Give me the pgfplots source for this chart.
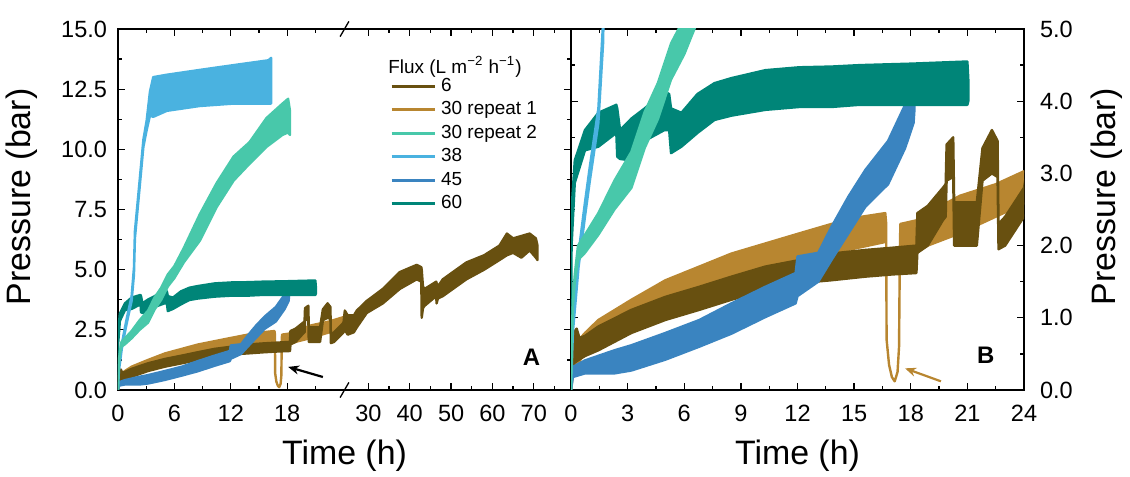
\documentclass[border=0pt]{standalone}
\usepackage{fontspec}
\setmainfont{Liberation Sans}
\usepackage{pgfplots}
\pgfplotsset{compat=1.18}
\usepackage{pgfplotstable}
\usetikzlibrary{arrows.meta}

\definecolor{cSix}{RGB}{104,80,16}
\definecolor{cRone}{RGB}{184,134,48}
\definecolor{cRtwo}{RGB}{72,200,170}
\definecolor{cThirtyEight}{RGB}{74,178,224}
\definecolor{cFortyFive}{RGB}{58,132,192}
\definecolor{cSixty}{RGB}{0,133,120}

% each table: upper envelope forward, lower envelope backward (t in h, p in bar)
\pgfplotstableread{
t p
0 0
0.05 0.55
0.15 0.8
0.3 0.85
0.45 0.72
0.74 0.75
1.45 0.88
3.2 1.11
5.0 1.29
6.8 1.43
8.5 1.57
10.3 1.71
12.1 1.8
13.8 1.89
15.6 1.94
17.0 1.97
18.3 2.0
18.35 2.45
18.9 2.55
19.7 2.8
19.85 2.85
19.9 3.4
20.25 3.5
20.3 2.6
21.5 2.6
21.8 3.35
22.3 3.6
22.6 3.45
22.65 2.3
23.0 2.4
24.0 2.8
24.3 3.3
25.0 3.1
26.5 3.1
27.2 3.3
29.6 3.7
33.5 4.2
37.6 4.9
41.7 5.2
42.8 5.1
42.9 5.0
43.2 4.3
43.6 4.2
46.4 4.5
46.8 4.3
48.0 4.6
53.7 5.3
58.0 5.6
61.7 6.0
63.5 6.5
65.0 6.3
67.0 6.4
69.0 6.5
70.5 6.3
70.9 6.0
70.9 5.4
70.5 5.5
69.0 5.8
67.0 5.5
65.0 5.7
63.5 5.6
61.7 5.4
58.0 5.0
53.7 4.6
48.0 3.9
46.8 3.8
46.5 3.6
46.4 3.9
43.6 3.5
43.2 3.4
42.9 3.0
42.8 4.5
41.7 4.6
37.6 4.2
33.5 3.6
29.6 3.2
27.2 2.6
26.5 2.4
25.0 2.3
24.3 2.5
24.0 2.4
23.0 2.0
22.65 1.95
22.6 2.95
22.3 3.0
21.8 2.9
21.5 2.0
20.3 2.0
20.25 2.95
19.9 2.9
19.85 2.4
19.7 2.35
18.9 2.0
18.35 1.9
18.3 1.62
17.0 1.6
15.6 1.57
13.8 1.52
12.1 1.48
10.3 1.38
8.5 1.25
6.8 1.11
5.0 0.97
3.2 0.79
1.45 0.55
0.74 0.47
0.3 0.4
0.15 0.37
0.05 0.3
0 0
}\tabSix

\pgfplotstableread{
t p
0 0
0.1 0.6
0.74 0.79
1.45 0.97
3.2 1.25
5.0 1.52
6.8 1.71
8.5 1.89
10.3 2.03
12.1 2.17
13.8 2.3
15.4 2.4
16.65 2.45
16.7 2.3
16.72 0.7
16.85 0.35
17.0 0.18
17.15 0.12
17.3 0.25
17.38 0.6
17.42 1.9
17.45 2.3
18.3 2.35
18.9 2.45
20.6 2.69
22.5 2.85
24.0 3.03
25.0 3.1
25.0 2.6
24.0 2.58
22.5 2.4
20.6 2.17
18.9 2.0
18.3 1.9
17.45 1.85
17.42 1.8
17.38 0.6
17.3 0.25
17.15 0.12
17.0 0.18
16.85 0.35
16.72 0.7
16.7 2.05
16.65 2.05
15.4 1.98
13.8 1.89
12.1 1.8
10.3 1.71
8.5 1.52
6.8 1.38
5.0 1.2
3.2 0.92
1.45 0.69
0.74 0.55
0.1 0.2
0 0
}\tabRone

\pgfplotstableread{
t p
0 0
0.05 0.8
0.1 1.25
0.2 1.6
0.37 2.0
0.74 2.15
1.45 2.45
2.3 2.9
3.2 3.3
3.9 3.85
4.6 4.25
5.3 4.8
6.0 5.15
7.0 5.9
8.7 7.3
10.5 8.6
12.3 9.7
14.0 10.3
15.8 11.3
17.5 11.9
18.1 12.1
18.3 11.6
18.3 10.6
18.1 10.7
17.5 10.6
15.8 10.1
14.0 9.4
12.3 8.7
10.5 7.6
8.7 6.2
7.0 5.3
6.0 4.65
5.3 4.3
4.6 3.75
3.9 3.35
3.2 2.8
2.3 2.5
1.45 2.15
0.74 1.9
0.37 1.8
0.2 1.5
0.1 1.15
0.05 0.7
0 0
}\tabRtwo

\pgfplotstableread{
t p
0 0
0.1 1.0
0.4 1.9
0.74 2.6
1.0 3.1
1.45 3.9
1.7 5.1
1.8 6.6
2.3 8.7
2.7 10.4
3.05 11.2
3.4 12.4
3.75 13.0
5.2 13.1
8.7 13.3
12.3 13.5
16.0 13.7
16.3 13.8
16.3 11.9
16.0 11.9
12.3 11.9
8.7 11.8
5.2 11.6
3.75 11.35
3.4 11.4
3.05 10.8
2.7 10.1
2.3 8.4
1.8 6.3
1.7 4.8
1.45 3.7
1.0 2.9
0.74 2.4
0.4 1.7
0.1 0.8
0 0
}\tabThirtyEight

\pgfplotstableread{
t p
0 0
0.1 0.32
0.74 0.41
2.3 0.55
3.2 0.62
5.0 0.79
6.8 0.97
8.5 1.2
10.3 1.43
11.9 1.62
12.0 1.85
13.1 1.9
13.8 2.26
14.7 2.68
15.6 3.05
16.8 3.45
17.7 3.95
18.15 4.25
18.2 4.2
18.2 3.9
18.15 3.7
17.7 3.35
16.8 2.85
15.6 2.54
14.7 2.17
13.8 1.8
13.1 1.5
12.0 1.3
11.9 1.2
10.3 1.01
8.5 0.78
6.8 0.6
5.0 0.42
3.2 0.27
2.3 0.23
0.74 0.23
0.1 0.18
0 0
}\tabFortyFive

\pgfplotstableread{
t p
0 0
0.03 2.5
0.2 3.18
0.74 3.6
1.45 3.84
2.4 3.95
2.45 3.9
2.6 3.6
3.2 3.76
3.9 3.9
4.95 4.13
5.2 4.1
5.3 3.9
5.85 3.84
6.7 4.1
7.6 4.25
8.5 4.32
10.3 4.43
12.1 4.47
13.8 4.48
15.3 4.5
18.0 4.52
21.0 4.55
21.05 4.3
21.05 4.0
21.0 3.95
18.0 3.95
15.3 3.95
13.8 3.92
12.1 3.92
10.3 3.88
8.5 3.8
7.6 3.74
6.7 3.56
5.85 3.37
5.3 3.28
5.2 3.6
4.95 3.6
3.9 3.45
3.2 3.18
2.6 3.2
2.45 3.23
2.4 3.56
1.45 3.37
0.74 3.32
0.2 2.87
0.03 2.0
0 0
}\tabSixty

\pgfplotsset{
  common/.style={
    scale only axis, width=226.5bp, height=180.5bp,
    axis line style={line width=1bp},
    every tick/.style={line width=0.65bp, black},
    tick align=inside,
    major tick length=3.5bp, minor tick length=2bp,
    ticklabel style={font=\fontsize{11.8}{14}\selectfont},
    /pgf/number format/assume math mode=true,
    label style={font=\fontsize{17}{20}\selectfont},
    clip mode=individual,
    xlabel style={at={(axis description cs:0.5,0)}, anchor=center, yshift=-33bp},
  },
  band/.style={fill=#1, draw=#1, line width=1.2bp, line join=round, forget plot},
}

\begin{document}
\begin{tikzpicture}
\path[use as bounding box] (-59bp,-43.5bp) rectangle (506bp,195bp);
\begin{axis}[common,
  at={(0,0)}, anchor=south west,
  xmin=0, xmax=48.2, ymin=0, ymax=15,
  x filter/.expression={(x>24) ? (24+(x-24)*0.44) : x},
  xtick={0,6,12,18,26.64,31.04,35.44,39.84,44.24},
  xticklabels={0,6,12,18,30,40,50,60,70},
  minor xtick={3,9,15,21,28.84,33.24,37.64,42.04,46.44},
  ytick={0,2.5,...,15}, minor y tick num=1,
  yticklabel style={/pgf/number format/.cd, fixed, fixed zerofill, precision=1},
  xticklabel shift=4bp, yticklabel shift=2bp,
  xlabel={Time (h)}, ylabel={Pressure (bar)},
  ylabel style={at={(axis description cs:-0.212,0.535)}, anchor=center},
  legend style={at={(0.600,0.867)}, anchor=north west, draw=none, fill=none,
    inner sep=0pt, font=\fontsize{9.5}{11}\selectfont,
    nodes={inner sep=0pt, text height=7bp, text depth=2bp},
    row sep=2.75bp, column sep=2.5bp, cells={anchor=west}},
  legend image code/.code={\draw[#1, line width=1.5bp] (0bp,0bp) -- (21.5bp,0bp);},
]
\addplot[band=cRone] table {\tabRone} -- cycle;
\addplot[band=cSix] table {\tabSix} -- cycle;
\addplot[band=cFortyFive] table {\tabFortyFive} -- cycle;
\addplot[band=cSixty] table {\tabSixty} -- cycle;
\addplot[band=cThirtyEight] table {\tabThirtyEight} -- cycle;
\addplot[band=cRtwo] table {\tabRtwo} -- cycle;
\addlegendimage{cSix}\addlegendentry{6}
\addlegendimage{cRone}\addlegendentry{30 repeat 1}
\addlegendimage{cRtwo}\addlegendentry{30 repeat 2}
\addlegendimage{cThirtyEight}\addlegendentry{38}
\addlegendimage{cFortyFive}\addlegendentry{45}
\addlegendimage{cSixty}\addlegendentry{60}
\node[anchor=west, font=\fontsize{9.5}{11}\selectfont, inner sep=0pt] at (rel axis cs:0.596,0.895) {Flux (L m\textsuperscript{−2} h\textsuperscript{−1})};
\node[font=\bfseries\fontsize{12}{14}\selectfont] at (axis cs:44.0,1.37) {A};
\draw[line width=1.1bp, -{Stealth[length=5.5bp,width=4.5bp]}] (axis cs:21.8,0.54) -- (axis cs:18.1,0.96);
\draw[line width=0.65bp] ([xshift=-2.2bp,yshift=-3.8bp]axis cs:24.1,15) -- ([xshift=2.2bp,yshift=3.8bp]axis cs:24.1,15);
\draw[line width=0.65bp] ([xshift=-2.2bp,yshift=-3.8bp]axis cs:24.1,0) -- ([xshift=2.2bp,yshift=3.8bp]axis cs:24.1,0);
\end{axis}

\begin{axis}[common,
  at={(226.5bp,0)}, anchor=south west,
  xmin=0, xmax=24, ymin=0, ymax=5,
  xtick={0,3,...,24}, minor x tick num=1,
  ytick={0,1,...,5}, minor y tick num=1,
  yticklabel pos=right,
  yticklabel style={/pgf/number format/.cd, fixed, fixed zerofill, precision=1},
  xticklabel shift=4bp, yticklabel shift=4.5bp,
  xlabel={Time (h)}, ylabel={Pressure (bar)},
  ylabel style={at={(axis description cs:1.183,0.535)}, anchor=center, rotate=0},
]
\addplot[band=cRone] table {\tabRone} -- cycle;
\addplot[band=cSix] table {\tabSix} -- cycle;
\addplot[band=cFortyFive] table {\tabFortyFive} -- cycle;
\addplot[band=cSixty] table {\tabSixty} -- cycle;
\addplot[band=cThirtyEight] table {\tabThirtyEight} -- cycle;
\addplot[band=cRtwo] table {\tabRtwo} -- cycle;
\node[font=\bfseries\fontsize{12}{14}\selectfont] at (axis cs:21.98,0.48) {B};
\draw[cRone, line width=1.1bp, -{Stealth[length=5.5bp,width=4.5bp]}] (axis cs:19.6,0.12) -- (axis cs:17.7,0.30);
\end{axis}
\end{tikzpicture}
\end{document}
